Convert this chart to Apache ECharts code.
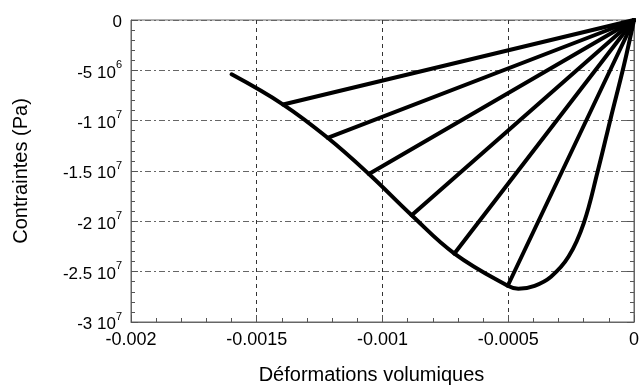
<!DOCTYPE html>
<html>
<head>
<meta charset="utf-8">
<script src="https://cdn.jsdelivr.net/npm/echarts@6/dist/echarts.min.js"></script>
<style>
  html, body { margin: 0; padding: 0; background: #fff; }
  #chart { width: 642px; height: 390px; }
</style>
</head>
<body>
<div id="chart"></div>
<script>
// envelope curve (loading) then last unloading back to origin
const envX = [-0.0016, -0.001395, -0.001218, -0.001054, -0.000884, -0.000714, -0.000502, -0.00046, -0.000395, -0.00033, -0.00026, -0.0002, -0.000144, -0.000092, -0.00004, 0];
const envY = [-5.4e6, -8.4e6, -1.17e7, -1.53e7, -1.94e7, -2.32e7, -2.64e7, -2.67e7, -2.64e7, -2.55e7, -2.35e7, -2.02e7, -1.5e7, -9.7e6, -4.5e6, 0];

// straight unloading rays, each from the origin to a point on the envelope
const rayX = [-0.001395, -0.001218, -0.001054, -0.000884, -0.000714, -0.000502];
const rayY = [-8.4e6, -1.17e7, -1.53e7, -1.94e7, -2.32e7, -2.64e7];

// tick labels
const yTicks = [0, -5e6, -1e7, -1.5e7, -2e7, -2.5e7, -3e7];
const yTickBase = ['0', '-5 10', '-1 10', '-1.5 10', '-2 10', '-2.5 10', '-3 10'];
const yTickExp = ['', '6', '7', '7', '7', '7', '7'];
const xTicks = [-0.002, -0.0015, -0.001, -0.0005, 0];
const xTickLabels = ['-0.002', '-0.0015', '-0.001', '-0.0005', '0'];

const font = 'Liberation Sans, Arial, Helvetica, sans-serif';

function yLabel(v) {
  const i = yTicks.findIndex(t => Math.abs(t - v) < 1);
  if (i < 0) return '';
  if (!yTickExp[i]) return '{m|' + yTickBase[i] + '}';
  return '{m|' + yTickBase[i] + '}{e|' + yTickExp[i] + '}';
}
function xLabel(v) {
  const i = xTicks.findIndex(t => Math.abs(t - v) < 1e-9);
  return i < 0 ? '' : xTickLabels[i];
}

const series = [{
  type: 'line',
  data: envX.map((x, i) => [x, envY[i]]),
  smooth: 0.4,
  showSymbol: false,
  lineStyle: { color: '#000', width: 4, cap: 'round', join: 'round' }
}];
rayX.forEach((x, i) => {
  series.push({
    type: 'line',
    data: [[0, 0], [x, rayY[i]]],
    showSymbol: false,
    lineStyle: { color: '#000', width: 4, cap: 'round' }
  });
});

const tickStyle = { show: true, inside: true, length: 7, lineStyle: { color: '#555' } };
const minorStyle = { show: true, splitNumber: 5, length: 4, lineStyle: { color: '#555' } };

const option = {
  animation: false,
  grid: {
    left: 131, right: 2, top: 20, bottom: 64,
    show: true, borderColor: '#666', borderWidth: 1, backgroundColor: 'transparent'
  },
  xAxis: {
    type: 'value', min: -0.002, max: 0, interval: 0.0005,
    name: 'Déformations volumiques', nameLocation: 'middle', nameGap: 43,
    nameTextStyle: { fontFamily: font, fontSize: 20, color: '#000', padding: [0, 22, 0, 0] },
    axisLine: { show: true, onZero: false, lineStyle: { color: '#666' } },
    axisTick: tickStyle,
    minorTick: minorStyle,
    axisLabel: { formatter: xLabel, fontFamily: font, fontSize: 18, color: '#000', margin: 9 },
    splitLine: { show: true, lineStyle: { color: '#333', type: [4, 4], width: 1 } }
  },
  yAxis: [{
    type: 'value', min: -3e7, max: 0, interval: 5e6,
    name: 'Contraintes (Pa)', nameLocation: 'middle', nameGap: 100, nameRotate: 90,
    nameTextStyle: { fontFamily: font, fontSize: 20, color: '#000' },
    axisLine: { show: true, onZero: false, lineStyle: { color: '#666' } },
    axisTick: tickStyle,
    minorTick: minorStyle,
    axisLabel: {
      formatter: yLabel, margin: 9,
      rich: {
        m: { fontFamily: font, fontSize: 17, color: '#000', lineHeight: 22, verticalAlign: 'bottom' },
        e: { fontFamily: font, fontSize: 11, color: '#000', lineHeight: 14, verticalAlign: 'top' }
      }
    },
    splitLine: { show: true, lineStyle: { color: '#666', type: [6, 3, 2, 3], width: 1 } }
  }, {
    type: 'value', min: -3e7, max: 0, interval: 5e6, position: 'right',
    axisLine: { show: true, onZero: false, lineStyle: { color: '#666' } },
    axisTick: tickStyle,
    minorTick: minorStyle,
    axisLabel: { show: false },
    splitLine: { show: false }
  }],
  series: series
};

const chart = echarts.init(document.getElementById('chart'), null, { renderer: 'canvas' });
chart.setOption(option);
</script>
</body>
</html>
